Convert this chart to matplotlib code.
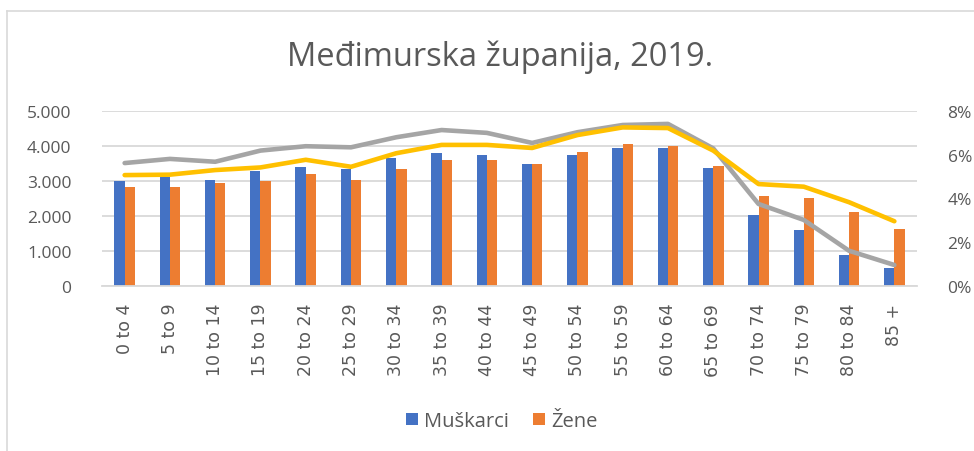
import matplotlib
matplotlib.use("Agg")
import matplotlib.pyplot as plt
from matplotlib.lines import Line2D
from matplotlib.ticker import FuncFormatter, MultipleLocator
import numpy as np

# age groups
age_groups = ["0 to 4", "5 to 9", "10 to 14", "15 to 19", "20 to 24", "25 to 29",
              "30 to 34", "35 to 39", "40 to 44", "45 to 49", "50 to 54", "55 to 59",
              "60 to 64", "65 to 69", "70 to 74", "75 to 79", "80 to 84", "85 +"]

# number of people (left axis)
muskarci = [3000, 3105, 3040, 3275, 3410, 3340, 3650, 3810, 3730,
            3475, 3730, 3930, 3950, 3370, 2040, 1600, 885, 505]
zene = [2820, 2840, 2950, 3010, 3200, 3030, 3350, 3590, 3590,
        3495, 3830, 4045, 4010, 3440, 2580, 2515, 2125, 1630]

# share of age group, in % (right axis)
muskarci_pct = [5.62, 5.81, 5.68, 6.19, 6.39, 6.34, 6.80, 7.13, 7.00,
                6.54, 7.03, 7.36, 7.41, 6.29, 3.75, 3.02, 1.61, 0.96]
zene_pct = [5.07, 5.09, 5.30, 5.42, 5.77, 5.45, 6.07, 6.45, 6.45,
            6.31, 6.90, 7.25, 7.22, 6.19, 4.66, 4.54, 3.83, 2.96]

BLUE = "#4472C4"
ORANGE = "#ED7D31"
GREY = "#A5A5A5"
YELLOW = "#FFC000"
TEXT = "#595959"
GRID = "#D9D9D9"

plt.rcParams["font.family"] = ["Open Sans", "DejaVu Sans"]

W, H = 974, 452
fig = plt.figure(figsize=(W / 100, H / 100), dpi=100)

# chart frame (only left and top edges visible in the picture)
fig.add_artist(Line2D([7 / W, 7 / W], [0, 1 - 12 / H], transform=fig.transFigure,
                      color=GRID, lw=1.2))
fig.add_artist(Line2D([7 / W, 1], [1 - 12 / H, 1 - 12 / H], transform=fig.transFigure,
                      color=GRID, lw=1.2))

ax = fig.add_axes([102 / W, 1 - 287 / H, 815 / W, 175 / H])
x = np.arange(len(age_groups))
bw = 0.227
ax.bar(x - bw / 2, muskarci, bw, color=BLUE, label="Muškarci", zorder=2)
ax.bar(x + bw / 2, zene, bw, color=ORANGE, label="Žene", zorder=2)

ax.set_xlim(-0.5, len(age_groups) - 0.5)
ax.set_ylim(0, 5000)
ax.yaxis.set_major_locator(MultipleLocator(1000))
ax.yaxis.set_major_formatter(FuncFormatter(lambda v, p: f"{int(v):,}".replace(",", ".")))
ax.grid(axis="y", color=GRID, lw=1.3, zorder=0)
ax.set_axisbelow(True)
for s in ax.spines.values():
    s.set_visible(False)
ax.spines["bottom"].set_visible(True)
ax.spines["bottom"].set_color(GRID)
ax.spines["bottom"].set_linewidth(1.3)
ax.tick_params(axis="y", length=0, pad=22, labelsize=12.5, labelcolor=TEXT)
ax.set_xticks(x)
ax.set_xticklabels(age_groups, rotation=90, family="DejaVu Sans", fontsize=12.5,
                   color=TEXT)
ax.tick_params(axis="x", length=0, pad=12)

ax2 = ax.twinx()
ax2.plot(x, muskarci_pct, color=GREY, lw=3.3, solid_capstyle="round", zorder=3)
ax2.plot(x, zene_pct, color=YELLOW, lw=3.3, solid_capstyle="round", zorder=3)
ax2.set_ylim(0, 8)
ax2.yaxis.set_major_locator(MultipleLocator(2))
ax2.yaxis.set_major_formatter(FuncFormatter(lambda v, p: f"{int(v)}%"))
for s in ax2.spines.values():
    s.set_visible(False)
ax2.tick_params(axis="y", length=0, pad=22, labelsize=12.5, labelcolor=TEXT)

fig.text(500 / W, 1 - 57 / H, "Međimurska županija, 2019.", ha="center", va="center",
         fontsize=23.5, color=TEXT)

fig.legend(loc="center", bbox_to_anchor=(502 / W, 1 - 422 / H), ncol=2, frameon=False,
           fontsize=14.5, labelcolor=TEXT, handlelength=0.6, handleheight=0.6,
           handletextpad=0.3, columnspacing=1.2)

fig.savefig("out.png", dpi=100)
